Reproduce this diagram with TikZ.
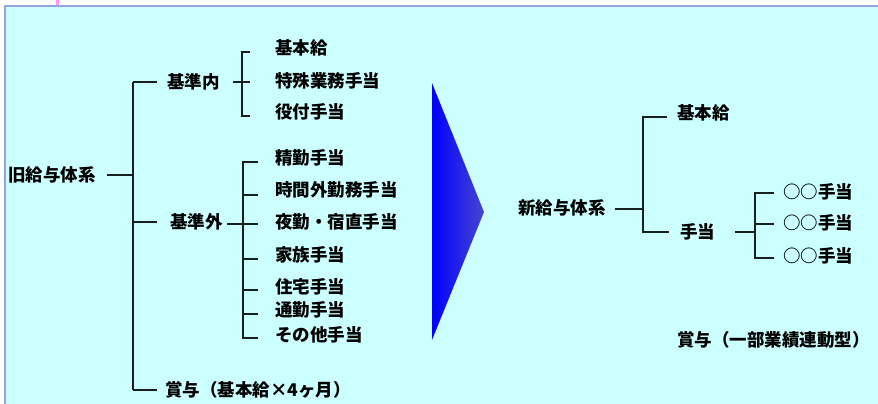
\documentclass[tikz,border=0pt]{standalone}
\usepackage{fontspec}
\setmainfont{Noto Sans CJK JP}
\definecolor{bgcyan}{RGB}{204,255,255}
\definecolor{frame}{RGB}{150,165,225}
\definecolor{pinkline}{RGB}{255,150,255}
\definecolor{linecol}{RGB}{25,30,30}
\definecolor{tipblue}{RGB}{70,70,205}
\tikzset{
  lbl/.style={anchor=west, inner sep=0pt, font=\fontsize{17.5}{20}\selectfont\bfseries, text height=15pt, text depth=2pt},
  ln/.style={draw=linecol, line width=1.9pt},
  lnthick/.style={draw=linecol, line width=2.8pt},
}
\begin{document}
\begin{tikzpicture}[x=1pt,y=1pt]
\useasboundingbox (0,0) rectangle (878,-404);
\fill[white] (0,0) rectangle (878,-404);
\draw[pinkline, line width=3pt] (57,0) -- (57,-5);
\filldraw[fill=bgcyan, draw=frame, line width=2pt] (5,-6) rectangle (882,-410);

% ---------- old system ----------
\node[lbl] (old) at (8,-175) {旧給与体系};
\node[lbl] (nai) at (167,-82) {基準内};
\node[lbl] (gai) at (170,-222) {基準外};
\node[lbl] (bonus1) at (165,-390) {賞与（基本給×4ヶ月）};

\node[lbl] (n1) at (275,-48) {基本給};
\node[lbl] (n2) at (275,-81) {特殊業務手当};
\node[lbl] (n3) at (275,-112) {役付手当};

\node[lbl] (g1) at (275,-158) {精勤手当};
\node[lbl] (g2) at (275,-190) {時間外勤務手当};
\node[lbl] (g3) at (275,-222) {夜勤・宿直手当};
\node[lbl] (g4) at (275,-255) {家族手当};
\node[lbl] (g5) at (275,-287) {住宅手当};
\node[lbl] (g6) at (275,-310) {通勤手当};
\node[lbl] (g7) at (275,-335) {その他手当};

\coordinate (tTop) at (133,-82);
\coordinate (tOld) at (133,-175);
\coordinate (tBot) at (133,-390);
\draw[ln] (tTop) -- (tBot);
\draw[lnthick] (107,-175) -- (tOld);
\draw[ln] (tTop) -- (157,-82);
\draw[ln] (133,-222) -- (157,-222);
\draw[ln] (tBot) -- (157,-390);

% bracket for 基準内
\draw[ln] (233,-82) -- (250,-82);
\draw[ln] (250,-52) -- (242,-52) -- (242,-116) -- (250,-116);

% bracket for 基準外
\draw[ln] (227,-224) -- (258,-224);
\draw[ln] (258,-162) -- (243,-162) -- (243,-338) -- (258,-338);
\foreach \yy in {195,259,290,314}{ \draw[ln] (243,-\yy) -- (258,-\yy); }

% ---------- arrow ----------
\shade[left color=blue, right color=tipblue] (432,-83) -- (484,-212) -- (432,-340) -- cycle;

% ---------- new system ----------
\node[lbl] (new) at (518,-208) {新給与体系};
\node[lbl] (k2) at (677,-113) {基本給};
\node[lbl] (te) at (680,-232) {手当};
\node[lbl] (m1) at (783,-192) {○○手当};
\node[lbl] (m2) at (783,-223) {○○手当};
\node[lbl] (m3) at (783,-256) {○○手当};
\node[lbl] (bonus2) at (677,-340) {賞与（一部業績連動型）};

\draw[lnthick] (615,-209) -- (643,-209);
\draw[ln] (667,-117) -- (643,-117) -- (643,-232) -- (669,-232);
\draw[ln] (735,-232) -- (755,-232);
\draw[ln] (774,-193) -- (755,-193) -- (755,-258) -- (774,-258);
\draw[ln] (755,-224) -- (774,-224);
\end{tikzpicture}
\end{document}
